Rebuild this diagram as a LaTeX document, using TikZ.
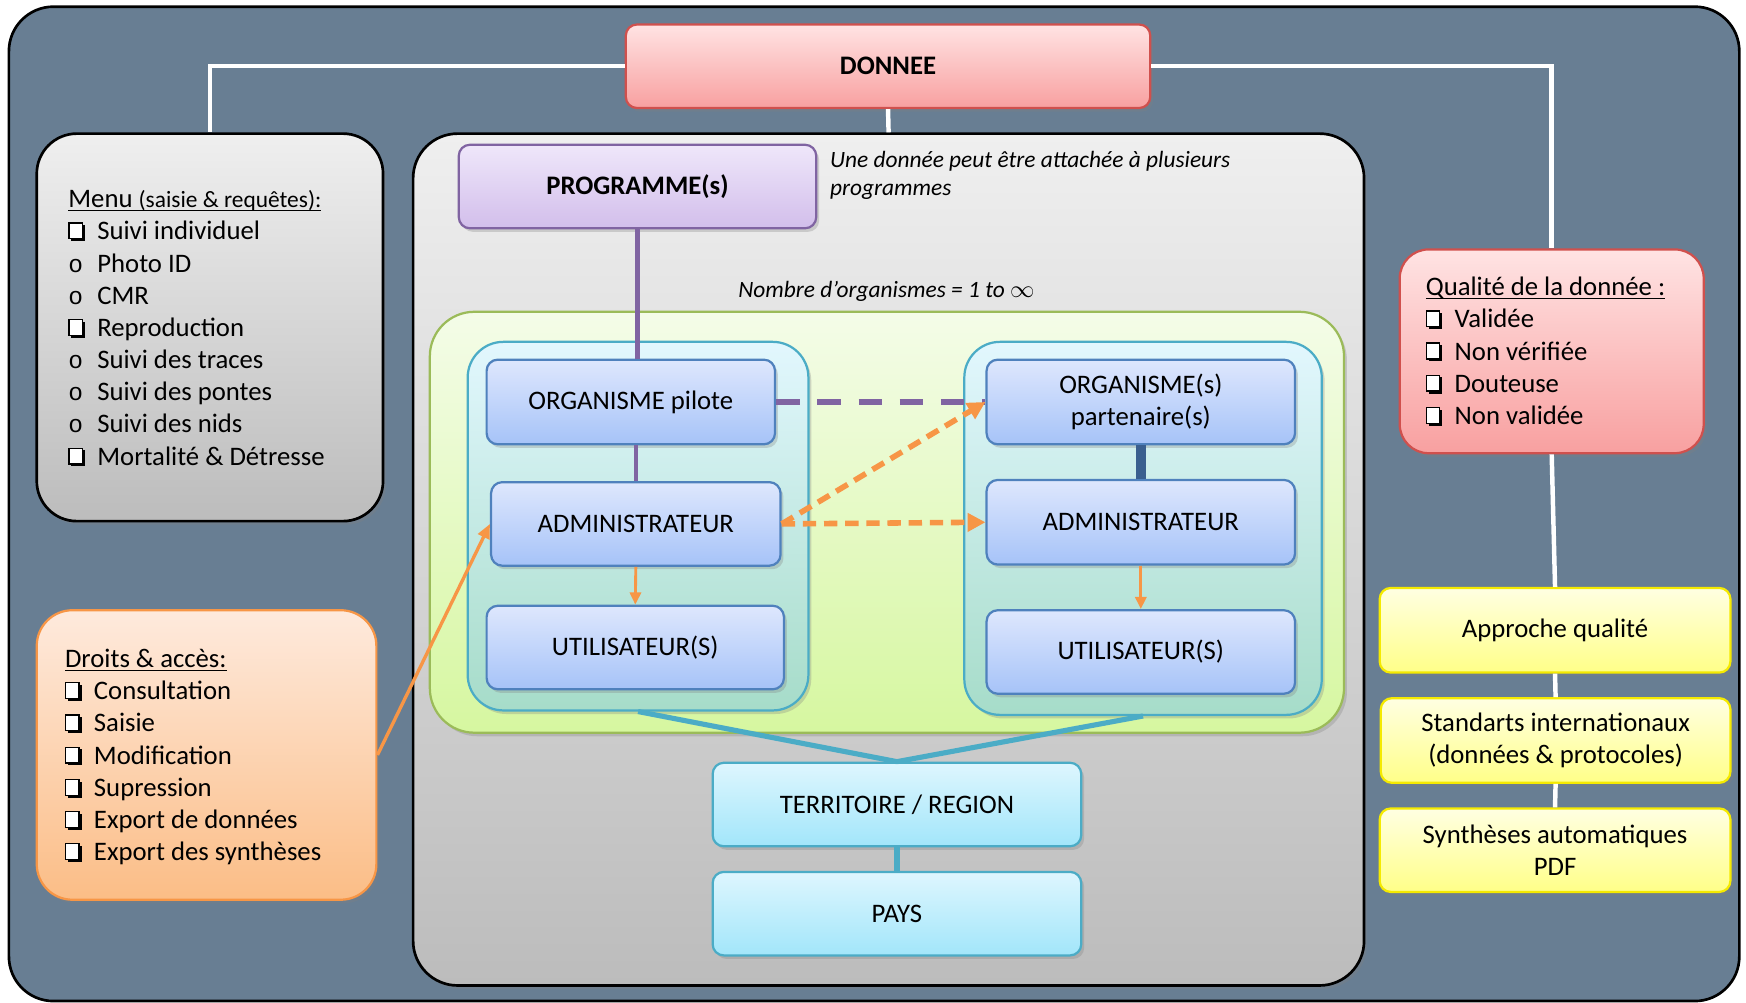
\documentclass[tikz,border=0pt]{standalone}
\usepackage{fontspec}
\setmainfont{Carlito}
\newfontfamily\monof{Liberation Mono}
\usetikzlibrary{arrows.meta,shadows}

\definecolor{bgslate}{HTML}{687E93}
\definecolor{grayTop}{HTML}{EFEFEF}
\definecolor{grayBot}{HTML}{BCBCBC}
\definecolor{redTop}{HTML}{FFE3E3}
\definecolor{redBot}{HTML}{F8A0A0}
\definecolor{redBorder}{HTML}{D0504D}
\definecolor{purTop}{HTML}{EFE7FA}
\definecolor{purBot}{HTML}{D2BEEB}
\definecolor{purBorder}{HTML}{8064A2}
\definecolor{grnTop}{HTML}{F4FCE8}
\definecolor{grnBot}{HTML}{D6F7A0}
\definecolor{grnBorder}{HTML}{9BBB59}
\definecolor{cyTop}{HTML}{E2F7FE}
\definecolor{cyBot}{HTML}{A6DCC9}
\definecolor{cyBorder}{HTML}{4BACC6}
\definecolor{bluTop}{HTML}{DEE7FD}
\definecolor{bluBot}{HTML}{A6C3F8}
\definecolor{bluBorder}{HTML}{4F81BD}
\definecolor{terTop}{HTML}{DEF6FE}
\definecolor{terBot}{HTML}{A2E6FA}
\definecolor{orgTop}{HTML}{FEEADD}
\definecolor{orgBot}{HTML}{FBBD86}
\definecolor{orgBorder}{HTML}{F79646}
\definecolor{yelTop}{HTML}{FFFFE2}
\definecolor{yelBot}{HTML}{FFFF88}
\definecolor{yelBorder}{HTML}{F5EA00}
\definecolor{darkblue}{HTML}{3A5F8F}

\newcommand\cbx{\tikz[baseline=0pt,x=1pt,y=1pt]{\fill[black] (1,-0.6) rectangle (7.1,6.6);\filldraw[fill=white,draw=black,line width=0.6pt] (0,0.5) rectangle (6,7.6);}}
\newcommand\obul{{\monof\fontsize{11}{14.45}\selectfont o}}
\newcommand\itm[2]{\makebox[13pt][l]{#1}#2\par}
\newcommand\myul[1]{\leavevmode\setbox0\hbox{#1}\rlap{\rule[-1.7pt]{\wd0}{0.7pt}}\box0}

\tikzset{
  shad/.style={drop shadow={shadow xshift=1.3pt,shadow yshift=-1.6pt,opacity=0.3}},
  basebox/.style={rectangle, inner sep=0pt, line width=1pt, shad},
  graybox/.style={basebox, draw=black, line width=1.2pt, top color=grayTop, bottom color=grayBot},
  redbox/.style={basebox, draw=redBorder, top color=redTop, bottom color=redBot},
  purbox/.style={basebox, draw=purBorder, top color=purTop, bottom color=purBot, rounded corners=5pt},
  grnbox/.style={basebox, draw=grnBorder, top color=grnTop, bottom color=grnBot, rounded corners=20pt},
  cybox/.style={basebox, draw=cyBorder, top color=cyTop, bottom color=cyBot, rounded corners=16pt},
  blubox/.style={basebox, draw=bluBorder, top color=bluTop, bottom color=bluBot, rounded corners=5pt, align=center},
  terbox/.style={basebox, draw=cyBorder, top color=terTop, bottom color=terBot, rounded corners=5pt},
  orgbox/.style={basebox, draw=orgBorder, top color=orgTop, bottom color=orgBot, rounded corners=16pt},
  yelbox/.style={basebox, draw=yelBorder, top color=yelTop, bottom color=yelBot, rounded corners=5pt, align=center},
  listtext/.style={anchor=base west, inner sep=0pt},
  note/.style={inner sep=0pt, font=\fontsize{10.5}{13}\selectfont\itshape},
  wline/.style={draw=white, line width=2pt},
  purline/.style={draw=purBorder, line width=2pt},
  purdash/.style={draw=purBorder, line width=2.5pt, dash pattern=on 10.5pt off 8pt},
  orarrow/.style={draw=orgBorder, line width=1.3pt, -{Triangle[length=5.5pt,width=5pt]}},
  ordash/.style={draw=orgBorder, line width=2.5pt, dash pattern=on 6pt off 3.5pt, -{Triangle[length=8pt,width=8pt]}},
  tealline/.style={draw=cyBorder, line width=2.3pt},
}

\begin{document}
\begin{tikzpicture}[x=0.5pt,y=-0.5pt, font=\fontsize{12}{14.45}\selectfont]
\useasboundingbox (0,0) rectangle (1568,900);

% background
\node[rectangle, draw=black, line width=1.2pt, fill=bgslate, rounded corners=20pt,
      minimum width=777pt, minimum height=446.5pt] (bg) at (785,452.5) {};

% main boxes
\node[redbox, rounded corners=5pt, minimum width=235.5pt, minimum height=37.5pt, font=\fontsize{12}{14.45}\selectfont\bfseries] (donnee) at (797.5,59.5) {DONNEE};
\node[graybox, rounded corners=18pt, minimum width=155.5pt, minimum height=174pt] (menu) at (188.5,294) {};
\node[graybox, rounded corners=20pt, minimum width=427pt, minimum height=382.5pt] (big) at (798,502.5) {};
\node[redbox, rounded corners=13pt, minimum width=136.5pt, minimum height=91.5pt] (qual) at (1393.5,315.5) {};
\node[orgbox, minimum width=152.5pt, minimum height=130pt] (droits) at (185.5,678) {};

% white connectors
\draw[wline] (donnee.west) -| (menu.north);
\draw[wline] (donnee.east) -| (qual.north);
\draw[wline] (donnee.south) -- (big.north);

% yellow boxes
\node[yelbox, minimum width=157.5pt, minimum height=38pt] (appr) at (1396.5,566) {Approche qualité};
\node[yelbox, minimum width=157pt, minimum height=38pt] (stand) at (1397,665) {Standarts internationaux\\(données \& protocoles)};
\node[yelbox, minimum width=157.5pt, minimum height=37.5pt] (synth) at (1396.5,763.5) {Synthèses automatiques\\PDF};
\draw[wline] (qual.south) -- (appr.north);
\draw[wline] (appr.south) -- (stand.north);
\draw[wline] (stand.south) -- (synth.north);

% inside big box
\node[purbox, minimum width=160.5pt, minimum height=37.5pt, font=\fontsize{12}{14.45}\selectfont\bfseries] (prog) at (572.5,167.5) {PROGRAMME(s)};
\node[note, anchor=base west, align=left] (note1) at (745,176) {Une donnée peut être attachée à plusieurs\\programmes};
\node[note] (note2) at (796,262) {Nombre d’organismes = 1 to $\infty$};

\node[grnbox, minimum width=410.5pt, minimum height=189pt] (green) at (796.5,469) {};
\node[cybox, minimum width=153pt, minimum height=165.5pt] (leftc) at (573,472.5) {};
\node[cybox, minimum width=160.5pt, minimum height=167.5pt] (rightc) at (1026.5,474.5) {};

\node[blubox, minimum width=129.5pt, minimum height=38pt] (orgp) at (566.5,361) {ORGANISME pilote};
\node[blubox, minimum width=130pt, minimum height=37.5pt] (adminL) at (571,470.5) {ADMINISTRATEUR};
\node[blubox, minimum width=133.5pt, minimum height=37.5pt] (utilL) at (570.5,581.5) {UTILISATEUR(S)};
\node[blubox, minimum width=138.5pt, minimum height=38pt, font=\fontsize{12}{14.5}\selectfont] (orgpart) at (1024.5,361) {ORGANISME(s)\\partenaire(s)};
\node[blubox, minimum width=138.5pt, minimum height=38pt] (adminR) at (1024.5,469) {ADMINISTRATEUR};
\node[blubox, minimum width=138.5pt, minimum height=37.5pt] (utilR) at (1024.5,585.5) {UTILISATEUR(S)};

\node[terbox, minimum width=165.5pt, minimum height=37.5pt] (terr) at (805.5,722.5) {TERRITOIRE / REGION};
\node[terbox, minimum width=165.5pt, minimum height=37.5pt] (pays) at (805.5,820.5) {PAYS};

% connectors inside
\draw[purline] (prog.south) -- (prog.south |- orgp.north);
\draw[purline] (adminL.north |- orgp.south) -- (adminL.north);
\draw[purdash] (orgp.east) -- (orgpart.west);
\draw[draw=darkblue, line width=4.5pt] (orgpart.south) -- (adminR.north);
\draw[orarrow] (adminL.south) -- (utilL.north);
\draw[orarrow] (adminR.south) -- (utilR.north);
\draw[ordash] (adminL.east) -- (adminR.west);
\draw[ordash] (adminL.east) -- (orgpart.west);
\draw[draw=orgBorder, line width=1.5pt, -{Triangle[length=6.5pt,width=5.5pt]}] (droits.east) -- (adminL.west);
\draw[tealline] (leftc.south) -- (terr.north);
\draw[tealline] (rightc.south) -- (terr.north);
\draw[tealline] (terr.south) -- (pays.north);

% list texts
\node[listtext] (menutxt) at (61,186.5) {\parbox[t]{150pt}{\raggedright
\myul{Menu {\fontsize{10.5}{14.45}\selectfont(saisie \& requêtes):}}\par
\itm{\cbx}{Suivi individuel}
\itm{\obul}{Photo ID}
\itm{\obul}{CMR}
\itm{\cbx}{Reproduction}
\itm{\obul}{Suivi des traces}
\itm{\obul}{Suivi des pontes}
\itm{\obul}{Suivi des nids}
\itm{\cbx}{Mortalité \& Détresse}}};

\node[listtext] (droitstxt) at (58,599.5) {\parbox[t]{150pt}{\raggedright
\myul{Droits \& accès:}\par
\itm{\cbx}{Consultation}
\itm{\cbx}{Saisie}
\itm{\cbx}{Modification}
\itm{\cbx}{Supression}
\itm{\cbx}{Export de données}
\itm{\cbx}{Export des synthèses}}};

\node[listtext] (qualtxt) at (1280,265.5) {\parbox[t]{130pt}{\raggedright
\myul{Qualité de la donnée :}\par
\itm{\cbx}{Validée}
\itm{\cbx}{Non vérifiée}
\itm{\cbx}{Douteuse}
\itm{\cbx}{Non validée}}};
\end{tikzpicture}
\end{document}
